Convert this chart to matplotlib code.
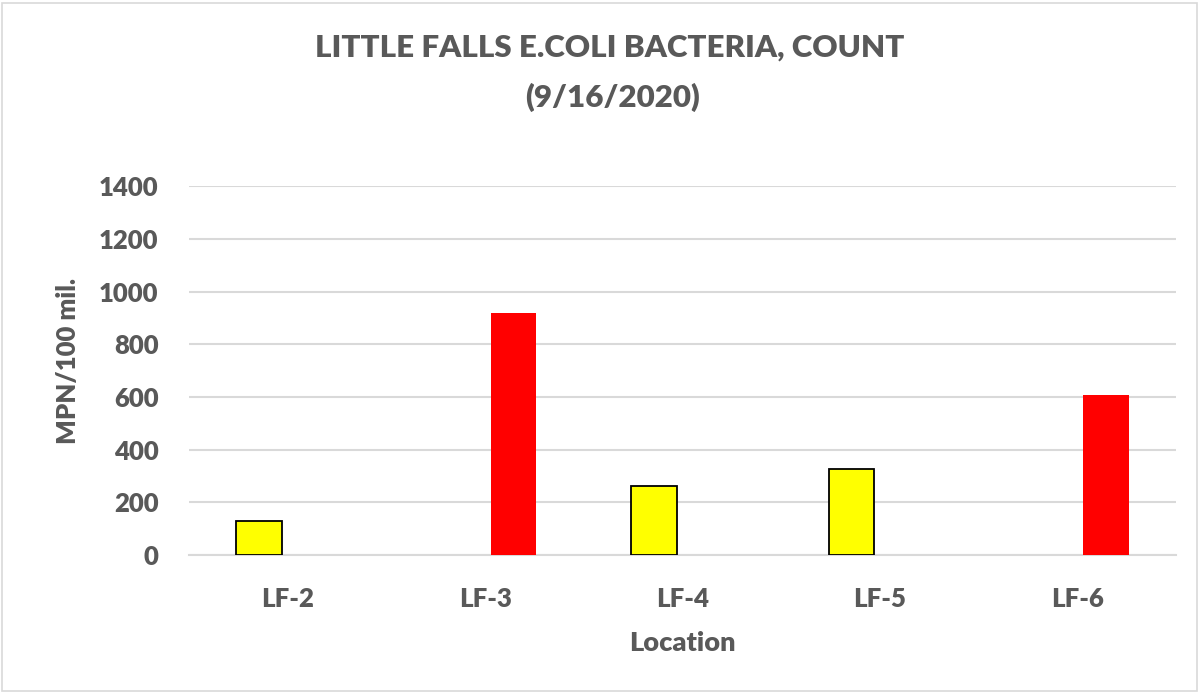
import numpy as np
import matplotlib
matplotlib.use("Agg")
import matplotlib.pyplot as plt
from matplotlib.patches import Rectangle

locations = ["LF-2", "LF-3", "LF-4", "LF-5", "LF-6"]
below_values = [130, np.nan, 262, 326, np.nan]   # yellow series
above_values = [np.nan, 920, np.nan, np.nan, 609]  # red series
y_ticks = [0, 200, 400, 600, 800, 1000, 1200, 1400]

TXT = "#595959"
FONT = "Lato"
WEIGHT = "heavy"

fig = plt.figure(figsize=(12.04, 6.94), dpi=100)
ax = fig.add_axes([189/1204, 1-555/694, (1176-189)/1204, (555-186.3)/694])

x = np.arange(len(locations))
w = 0.2305
gap = 0.029
ax.bar(x - gap - w/2, below_values, width=w, color="#FFFF00", edgecolor="black", linewidth=1.3, zorder=3)
ax.bar(x + gap + w/2, above_values, width=w, color="#FF0000", edgecolor="none", zorder=3)

ax.set_xlim(-0.5, len(locations) - 0.5)
ax.set_ylim(0, 1400)
ax.set_yticks(y_ticks)
ax.set_yticklabels([str(v) for v in y_ticks])
ax.set_xticks(x)
ax.set_xticklabels(locations)
ax.grid(axis="y", color="#D9D9D9", linewidth=1.5, zorder=0)
ax.set_axisbelow(True)
for s in ["top", "right", "left"]:
    ax.spines[s].set_visible(False)
ax.spines["bottom"].set_color("#D9D9D9")
ax.spines["bottom"].set_linewidth(1.5)
ax.tick_params(axis="both", length=0)
ax.tick_params(axis="y", pad=22)
ax.tick_params(axis="x", pad=23)
for lab in ax.get_yticklabels() + ax.get_xticklabels():
    lab.set_fontfamily(FONT)
    lab.set_fontweight(WEIGHT)
    lab.set_fontsize(18.5)
    lab.set_color(TXT)

fig.text(610/1204, 1-48/694, "LITTLE FALLS E.COLI BACTERIA, COUNT", ha="center", va="center",
         fontfamily=FONT, fontweight=WEIGHT, fontsize=22.5, color=TXT)
fig.text(612/1204, 1-97/694, "(9/16/2020)", ha="center", va="center",
         fontfamily=FONT, fontweight=WEIGHT, fontsize=22.5, color=TXT)
fig.text(682/1204, 1-643/694, "Location", ha="center", va="center",
         fontfamily=FONT, fontweight=WEIGHT, fontsize=19.5, color=TXT)
fig.text(68/1204, 1-361/694, "MPN/100 mil.", ha="center", va="center", rotation=90,
         fontfamily=FONT, fontweight=WEIGHT, fontsize=18.5, color=TXT)

fig.patches.append(Rectangle((0.002, 0.004), 0.992, 0.992, transform=fig.transFigure,
                             fill=False, edgecolor="#D9D9D9", linewidth=1.2))

fig.savefig("out.png", dpi=100)
